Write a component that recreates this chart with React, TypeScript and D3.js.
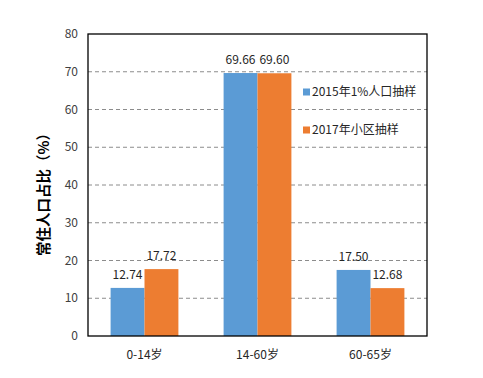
import React from "react";
import * as d3 from "d3";

const categories = ["0-14岁", "14-60岁", "60-65岁"];
const seriesNames = ["2015年1%人口抽样", "2017年小区抽样"];
const series2015 = [12.74, 69.66, 17.5];
const series2017 = [17.72, 69.6, 12.68];
const yTicks = [0, 10, 20, 30, 40, 50, 60, 70, 80];
const colors = ["#5B9BD5", "#ED7D31"];

export default function App() {
  const W = 483, H = 378;
  const left = 88, right = 427, top = 34, bottom = 336;
  const font = "'Noto Sans CJK SC', 'DejaVu Sans', sans-serif";
  const y = d3.scaleLinear().domain([0, 80]).range([bottom, top]);
  const x = d3.scaleBand().domain(categories).range([left, right]).paddingInner(0).paddingOuter(0);
  const groupW = x.bandwidth() * 0.6;
  const inner = d3.scaleBand().domain(["a", "b"]).range([0, groupW]);
  const data = [series2015, series2017];
  return (
    <svg width={W} height={H} style={{ position: "absolute", left: 0, top: 0, background: "#fff" }} fontFamily={font}>
      <rect x={0} y={0} width={W} height={H} fill="#fff" />
      {yTicks.map((t) => (
        <g key={t}>
          {t > 0 && t < 80 && (
            <line x1={left} x2={right} y1={y(t)} y2={y(t)} stroke="#8c8c8c" strokeDasharray="4,3" strokeWidth={1} />
          )}
          <text x={78} y={y(t)} dy="0.35em" textAnchor="end" fontSize={12} fill="#404040">{t}</text>
        </g>
      ))}
      {data.map((vals, si) =>
        vals.map((v, ci) => {
          const bx = (x(categories[ci]) as number) + (x.bandwidth() - groupW) / 2 + (inner(si === 0 ? "a" : "b") as number);
          return (
            <g key={si + "-" + ci}>
              <rect x={bx} y={y(v)} width={inner.bandwidth()} height={bottom - y(v)} fill={colors[si]} />
              <text x={bx + inner.bandwidth() / 2} y={y(v) - 9} textAnchor="middle" fontSize={12} fill="#262626">{v.toFixed(2)}</text>
            </g>
          );
        })
      )}
      <rect x={left} y={top} width={right - left} height={bottom - top} fill="none" stroke="#000" strokeWidth={1.3} />
      {categories.map((c) => (
        <text key={c} x={(x(c) as number) + x.bandwidth() / 2} y={355} dy="0.35em" textAnchor="middle" fontSize={12} fill="#262626">{c}</text>
      ))}
      {seriesNames.map((n, i) => (
        <g key={n} transform={`translate(303, ${92 + i * 38})`}>
          <rect x={0} y={-3.5} width={7} height={7} fill={colors[i]} />
          <text x={9} y={0} dy="0.36em" fontSize={12} fill="#262626">{n}</text>
        </g>
      ))}
      <text transform={`translate(44, 191) rotate(-90)`} textAnchor="middle" dy="0.35em" fontSize={14.5} fontWeight="bold" fill="#000">常住人口占比（%）</text>
    </svg>
  );
}
